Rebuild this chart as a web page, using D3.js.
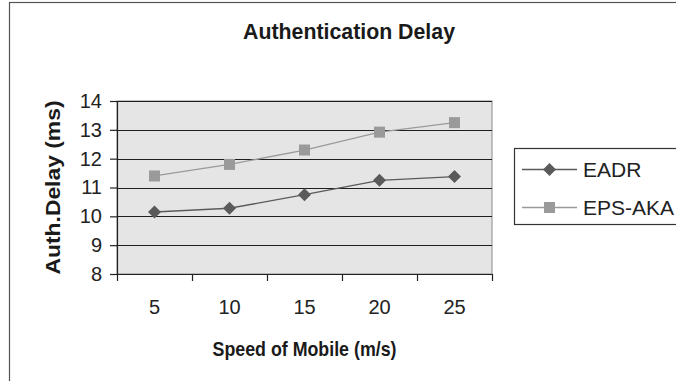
<!DOCTYPE html>
<html>
<head>
<meta charset="utf-8">
<script src="https://cdn.jsdelivr.net/npm/d3@7"></script>
<style>
  html, body { margin: 0; padding: 0; background: #fff; }
  svg { display: block; font-family: "Liberation Sans", Arial, sans-serif; }
</style>
</head>
<body>
<svg id="chart" width="676" height="381"></svg>
<script>
// Mobile speed categories (m/s)
const speeds = ["5", "10", "15", "20", "25"];
// Authentication delay (ms) per scheme
const eadr   = [10.15, 10.28, 10.75, 11.25, 11.38];
const epsAka = [11.40, 11.80, 12.30, 12.92, 13.25];
const yTicks = [8, 9, 10, 11, 12, 13, 14];
const seriesNames = ["EADR", "EPS-AKA"];

const svg = d3.select("#chart");
const W = 676, H = 381;
const plot = { left: 117, right: 492, top: 101, bottom: 274 };

// Outer chart frame (runs off the right and bottom edges)
svg.append("rect")
  .attr("x", 9.5).attr("y", 2.5)
  .attr("width", W + 20).attr("height", H + 20)
  .attr("fill", "#fff").attr("stroke", "#555").attr("stroke-width", 1.2);

const x = d3.scaleBand().domain(speeds).range([plot.left, plot.right]);
const y = d3.scaleLinear().domain([8, 14]).range([plot.bottom, plot.top]);

// Plot background
svg.append("rect")
  .attr("x", plot.left).attr("y", plot.top)
  .attr("width", plot.right - plot.left).attr("height", plot.bottom - plot.top)
  .attr("fill", "#e5e5e5").attr("stroke", "#8a8a8a").attr("stroke-width", 1);

// Horizontal gridlines
svg.append("g").selectAll("line").data(yTicks.filter(d => d > 8)).join("line")
  .attr("x1", plot.left).attr("x2", plot.right)
  .attr("y1", d => Math.round(y(d)) + 0.5).attr("y2", d => Math.round(y(d)) + 0.5)
  .attr("stroke", "#1e1e1e").attr("stroke-width", 1.2);

// Y axis
const yAxis = svg.append("g")
  .attr("transform", `translate(${plot.left},0)`)
  .call(d3.axisLeft(y).tickValues(yTicks).tickFormat(d3.format("d"))
    .tickSize(7).tickPadding(8).tickSizeOuter(0));
yAxis.select(".domain").attr("stroke", "#222").attr("stroke-width", 1.2);
yAxis.selectAll(".tick line").attr("stroke", "#222").attr("stroke-width", 1.2);
yAxis.selectAll(".tick text")
  .attr("font-size", 20).attr("fill", "#222")
  .attr("font-family", "Liberation Sans, Arial, sans-serif");

// X axis: ticks sit on band boundaries, labels on band centres
const xAxis = svg.append("g").attr("transform", `translate(0,${plot.bottom})`);
xAxis.append("line")
  .attr("x1", plot.left).attr("x2", plot.right).attr("y1", 0.5).attr("y2", 0.5)
  .attr("stroke", "#222").attr("stroke-width", 1.2);
const bounds = speeds.map(s => x(s)).concat([x(speeds[speeds.length - 1]) + x.bandwidth()]);
xAxis.selectAll("line.tk").data(bounds).join("line").attr("class", "tk")
  .attr("x1", d => Math.round(d) + 0.5).attr("x2", d => Math.round(d) + 0.5)
  .attr("y1", 0).attr("y2", 7)
  .attr("stroke", "#222").attr("stroke-width", 1.2);
xAxis.selectAll("text").data(speeds).join("text")
  .attr("x", d => x(d) + x.bandwidth() / 2)
  .attr("y", 40)
  .attr("text-anchor", "middle")
  .attr("font-size", 20).attr("fill", "#222")
  .text(d => d);

// Series lines and markers
const line = d3.line()
  .x((d, i) => x(speeds[i]) + x.bandwidth() / 2)
  .y(d => y(d));

svg.append("path").datum(epsAka).attr("d", line)
  .attr("fill", "none").attr("stroke", "#9a9a9a").attr("stroke-width", 1.3);
svg.append("path").datum(eadr).attr("d", line)
  .attr("fill", "none").attr("stroke", "#5a5a5a").attr("stroke-width", 1.3);

const sq = 11, dm = 6.5;
svg.append("g").selectAll("rect").data(epsAka).join("rect")
  .attr("x", (d, i) => x(speeds[i]) + x.bandwidth() / 2 - sq / 2)
  .attr("y", d => y(d) - sq / 2)
  .attr("width", sq).attr("height", sq)
  .attr("fill", "#9a9a9a");
svg.append("g").selectAll("path").data(eadr).join("path")
  .attr("transform", (d, i) => `translate(${x(speeds[i]) + x.bandwidth() / 2},${y(d)})`)
  .attr("d", `M0,${-dm}L${dm},0L0,${dm}L${-dm},0Z`)
  .attr("fill", "#5a5a5a");

// Titles
svg.append("text")
  .attr("x", 349).attr("y", 39)
  .attr("text-anchor", "middle")
  .attr("font-size", 22).attr("font-weight", "bold").attr("fill", "#1a1a1a")
  .attr("textLength", 212).attr("lengthAdjust", "spacingAndGlyphs")
  .text("Authentication Delay");

svg.append("text")
  .attr("x", (plot.left + plot.right) / 2).attr("y", 356)
  .attr("text-anchor", "middle")
  .attr("font-size", 21).attr("font-weight", "bold").attr("fill", "#1a1a1a")
  .attr("textLength", 184).attr("lengthAdjust", "spacingAndGlyphs")
  .text("Speed of Mobile (m/s)");

svg.append("text")
  .attr("transform", `translate(60,${(plot.top + plot.bottom) / 2}) rotate(-90)`)
  .attr("text-anchor", "middle")
  .attr("font-size", 21).attr("font-weight", "bold").attr("fill", "#1a1a1a")
  .attr("textLength", 174).attr("lengthAdjust", "spacingAndGlyphs")
  .text("Auth.Delay (ms)");

// Legend
const legend = svg.append("g");
legend.append("rect")
  .attr("x", 514.5).attr("y", 148.5)
  .attr("width", 200).attr("height", 76)
  .attr("fill", "#fff").attr("stroke", "#333").attr("stroke-width", 1.2);

const legendRows = [
  { name: seriesNames[0], color: "#5a5a5a", shape: "diamond", cy: 169 },
  { name: seriesNames[1], color: "#9a9a9a", shape: "square", cy: 207 }
];
legendRows.forEach(r => {
  legend.append("line")
    .attr("x1", 522).attr("x2", 577).attr("y1", r.cy + 0.5).attr("y2", r.cy + 0.5)
    .attr("stroke", r.color).attr("stroke-width", 1.3);
  if (r.shape === "diamond") {
    legend.append("path")
      .attr("transform", `translate(549.5,${r.cy + 0.5})`)
      .attr("d", `M0,${-dm}L${dm},0L0,${dm}L${-dm},0Z`)
      .attr("fill", r.color);
  } else {
    legend.append("rect")
      .attr("x", 549.5 - sq / 2).attr("y", r.cy + 0.5 - sq / 2)
      .attr("width", sq).attr("height", sq).attr("fill", r.color);
  }
  legend.append("text")
    .attr("x", 583).attr("y", r.cy + 7.5)
    .attr("font-size", 21).attr("fill", "#222")
    .text(r.name);
});
</script>
</body>
</html>
